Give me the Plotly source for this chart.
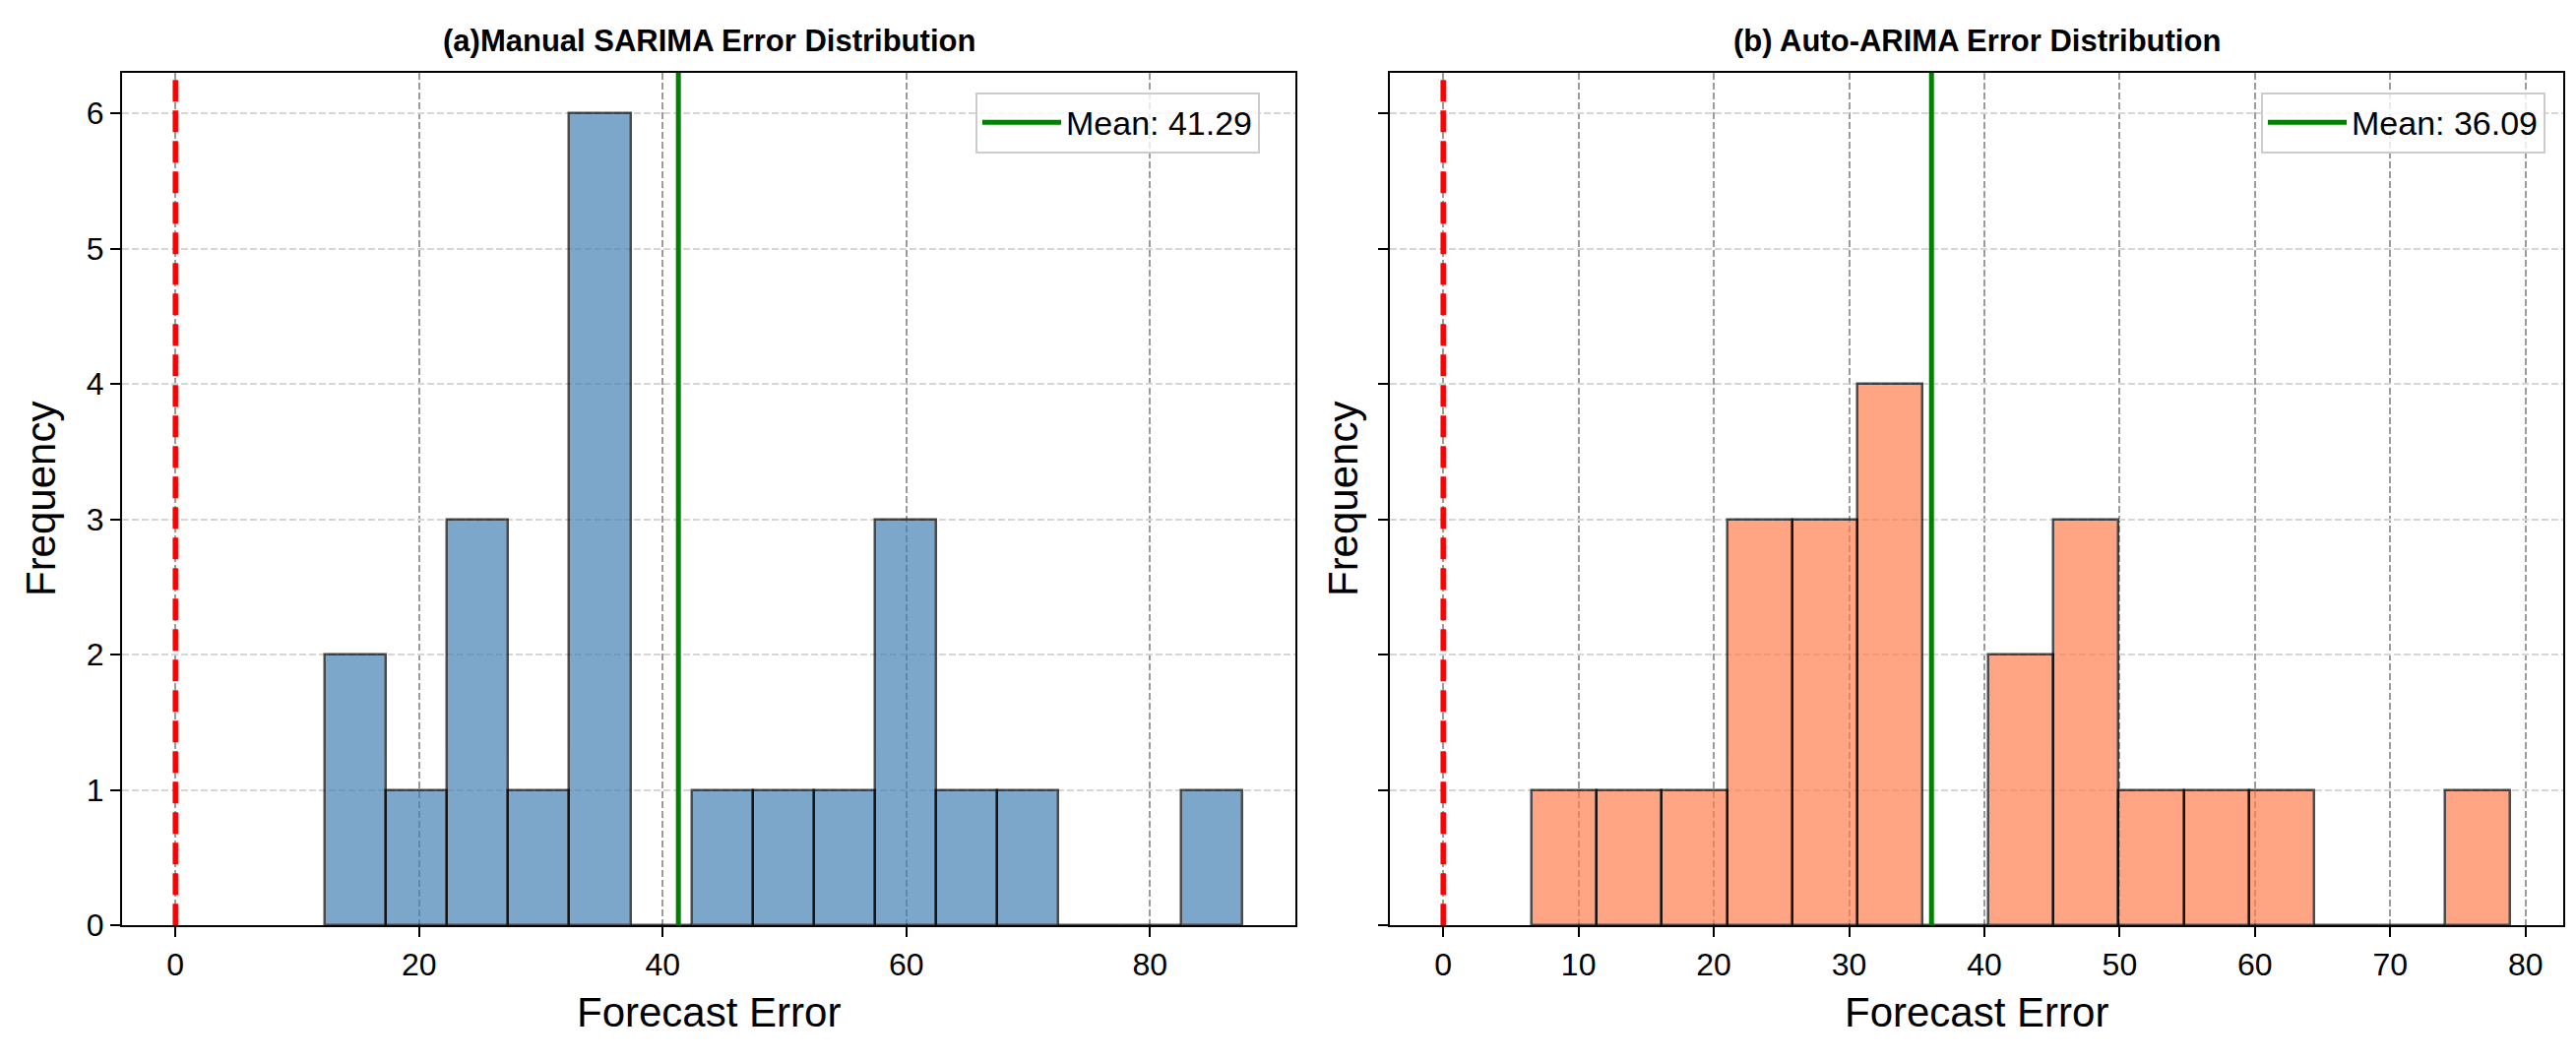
import numpy as np
import plotly.graph_objects as go

# ---------------- data ----------------
manual_counts = [2, 1, 3, 1, 6, 0, 1, 1, 1, 3, 1, 1, 0, 0, 1]
manual_min_error = 12.26
manual_max_error = 87.56
manual_mean = 41.29

auto_counts = [1, 1, 1, 3, 3, 4, 0, 2, 3, 1, 1, 1, 0, 0, 1]
auto_min_error = 6.53
auto_max_error = 78.84
auto_mean = 36.09

reference_error = 0
left_ticks = [0, 20, 40, 60, 80]
right_ticks = [0, 10, 20, 30, 40, 50, 60, 70, 80]
y_ticks = [0, 1, 2, 3, 4, 5, 6]

titles = ["(a)Manual SARIMA Error Distribution", "(b) Auto-ARIMA Error Distribution"]
xlabel = "Forecast Error"
ylabel = "Frequency"

# ---------------- layout constants ----------------
W, H = 2617, 1078
FONT = "Liberation Sans, Arial, sans-serif"
TICK_SIZE = 32
LABEL_SIZE = 42
TITLE_SIZE = 31
LEGEND_SIZE = 34

def px_x(p):
    return p / W

def px_y(p):
    return 1 - p / H

left_dom = [px_x(116), px_x(1308)]
right_dom = [px_x(1404), px_x(2596)]
y_dom = [px_y(948), px_y(67)]


def bins(counts, lo, hi):
    edges = np.linspace(lo, hi, len(counts) + 1)
    centers = (edges[:-1] + edges[1:]) / 2
    return centers, edges[1] - edges[0]


fig = go.Figure()

mc, mw = bins(manual_counts, manual_min_error, manual_max_error)
ac, aw = bins(auto_counts, auto_min_error, auto_max_error)

fig.add_trace(go.Bar(x=mc, y=manual_counts, width=mw, xaxis="x", yaxis="y",
                     marker=dict(color="steelblue", opacity=0.7,
                                 line=dict(color="black", width=2.5)),
                     showlegend=False, hoverinfo="x+y"))
fig.add_trace(go.Bar(x=ac, y=auto_counts, width=aw, xaxis="x2", yaxis="y2",
                     marker=dict(color="coral", opacity=0.7,
                                 line=dict(color="black", width=2.5)),
                     showlegend=False, hoverinfo="x+y"))

y_top = max(max(manual_counts), max(auto_counts)) * 1.05


def xr(hi):
    span = hi - 0
    return [0 - 0.05 * span, hi + 0.05 * span]


grid_common = dict(showgrid=True, griddash="7px,3px", gridwidth=1.7,
                   showline=True, mirror=True, linecolor="black", linewidth=2,
                   ticks="outside", ticklen=10, tickwidth=2, tickcolor="black",
                   zeroline=False,
                   tickfont=dict(family=FONT, size=TICK_SIZE, color="black"))

legend_common = dict(xanchor="right", yanchor="top", itemwidth=80,
                     bgcolor="rgba(255,255,255,0.8)", bordercolor="#cccccc", borderwidth=2,
                     font=dict(family=FONT, size=LEGEND_SIZE, color="black"))

fig.update_layout(
    width=W, height=H,
    margin=dict(l=0, r=0, t=0, b=0),
    paper_bgcolor="white", plot_bgcolor="white",
    bargap=0,
    xaxis=dict(domain=left_dom, anchor="y", range=xr(manual_max_error),
               tickvals=left_ticks, gridcolor="#9c9c9c", **grid_common),
    yaxis=dict(domain=y_dom, anchor="x", range=[0, y_top], tickvals=y_ticks,
               gridcolor="#d6d6d6", **grid_common),
    xaxis2=dict(domain=right_dom, anchor="y2", range=xr(auto_max_error),
                tickvals=right_ticks, gridcolor="#9c9c9c", **grid_common),
    yaxis2=dict(domain=y_dom, anchor="x2", range=[0, y_top], tickvals=y_ticks,
                showticklabels=False, gridcolor="#d6d6d6", **grid_common),
    legend=dict(x=px_x(1272), y=px_y(87), **legend_common),
    legend2=dict(x=px_x(2578), y=px_y(87), **legend_common),
)

# reference line at zero and mean lines
for xa, mean, leg in [("x", manual_mean, "legend"), ("x2", auto_mean, "legend2")]:
    ya = "y" if xa == "x" else "y2"
    fig.add_shape(type="line", xref=xa, yref=ya + " domain", x0=reference_error, x1=reference_error,
                  y0=0, y1=1, line=dict(color="red", width=5.5, dash="22px,9px"))
    fig.add_shape(type="line", xref=xa, yref=ya + " domain", x0=mean, x1=mean,
                  y0=0, y1=1, line=dict(color="green", width=5),
                  showlegend=True, name=f"Mean: {mean:.2f}", legend=leg)

# titles and axis labels
for dom, title in [(left_dom, titles[0]), (right_dom, titles[1])]:
    cx = (dom[0] + dom[1]) / 2
    fig.add_annotation(text=f"<b>{title}</b>", x=cx, y=px_y(34), xref="paper", yref="paper",
                       showarrow=False, xanchor="center", yanchor="middle",
                       font=dict(family=FONT, size=TITLE_SIZE, color="black"))
    fig.add_annotation(text=xlabel, x=cx, y=px_y(1038), xref="paper", yref="paper",
                       showarrow=False, xanchor="center", yanchor="middle",
                       font=dict(family=FONT, size=LABEL_SIZE, color="black"))

yc = (y_dom[0] + y_dom[1]) / 2
for xpos in [px_x(33), px_x(1356)]:
    fig.add_annotation(text=ylabel, x=xpos, y=yc, xref="paper", yref="paper",
                       showarrow=False, xanchor="center", yanchor="middle", textangle=-90,
                       font=dict(family=FONT, size=LABEL_SIZE, color="black"))

fig.write_html("out.html")
